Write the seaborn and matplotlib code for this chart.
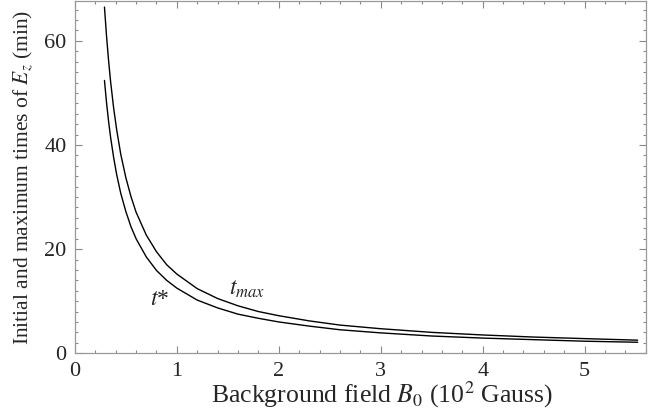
import pandas as pd
import seaborn as sns
import matplotlib.pyplot as plt
from matplotlib.ticker import MultipleLocator

# values
B0 = [0.29, 0.31, 0.33, 0.35, 0.38, 0.41, 0.45, 0.5, 0.55, 0.6, 0.7, 0.8, 0.9, 1.0,
      1.2, 1.4, 1.6, 1.8, 2.0, 2.3, 2.6, 3.0, 3.5, 4.0, 4.5, 5.0, 5.52]
t_max = [66.5, 61.0, 56.3, 52.2, 47.1, 42.9, 38.2, 33.7, 30.1, 27.1, 22.7, 19.5, 17.0, 15.2,
         12.4, 10.5, 9.1, 8.0, 7.2, 6.2, 5.4, 4.7, 4.0, 3.5, 3.1, 2.8, 2.5]
t_star = [52.4, 48.2, 44.6, 41.5, 37.6, 34.3, 30.7, 27.2, 24.3, 22.0, 18.5, 15.9, 14.0, 12.5,
          10.2, 8.7, 7.5, 6.7, 6.0, 5.2, 4.5, 3.9, 3.3, 2.9, 2.6, 2.3, 2.1]

data = pd.DataFrame({"B0": B0, "t_max": t_max, "t_star": t_star})

sns.set_style("ticks")
plt.rcParams["font.family"] = ["Liberation Serif", "DejaVu Serif"]
plt.rcParams["mathtext.fontset"] = "stix"

fig = plt.figure(figsize=(6.57, 4.16), dpi=100)
ax = fig.add_axes([0.114, 0.151, 0.869, 0.847])

sns.lineplot(x="B0", y="t_max", data=data, color="black", linewidth=1.0, ax=ax)
sns.lineplot(x="B0", y="t_star", data=data, color="black", linewidth=1.0, ax=ax)

ax.set_xlim(0, 5.6)
ax.set_ylim(0, 67.7)
ax.xaxis.set_major_locator(MultipleLocator(1))
ax.xaxis.set_minor_locator(MultipleLocator(0.2))
ax.yaxis.set_major_locator(MultipleLocator(20))
ax.yaxis.set_minor_locator(MultipleLocator(2))

for s in ax.spines.values():
    s.set_color("#999999")
    s.set_linewidth(0.9)
ax.tick_params(which="both", direction="in", top=True, right=True, color="#888888", width=0.8)
ax.tick_params(which="major", length=5, labelsize=16, pad=6)
ax.tick_params(which="minor", length=2.5)

ax.set_xlabel(r"Background field $B_{\mathit{0}}$ (10$^2$ Gauss)", fontsize=18.5)
ax.xaxis.set_label_coords(0.538, -0.075)
ax.set_ylabel(r"Initial and maximum times of $E_z$ (min)", fontsize=15.5, labelpad=7)

ax.text(1.69, 12.3, r"$t_{max}$", fontsize=17, ha="center", va="center")
ax.text(0.83, 10.4, r"$t$*", fontsize=17, ha="center", va="center")

plt.savefig("out.png", dpi=100)
